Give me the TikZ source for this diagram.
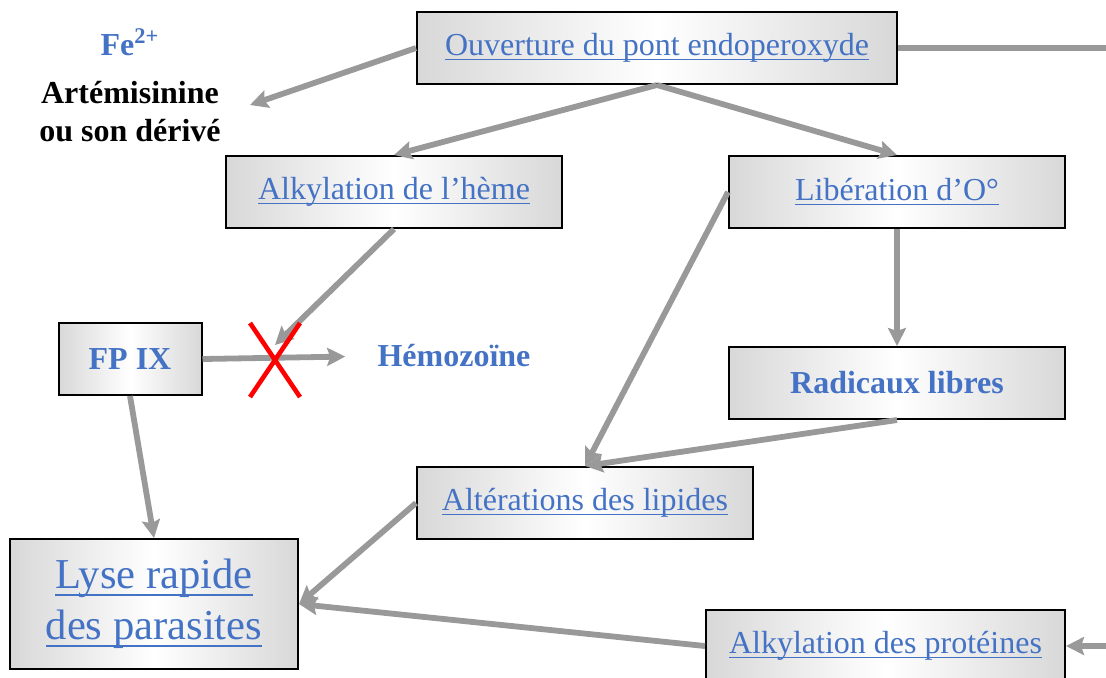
\documentclass[tikz,border=0pt]{standalone}
\usepackage{fontspec}
\setmainfont{Liberation Serif}
\usetikzlibrary{arrows.meta}
\definecolor{bleulien}{RGB}{68,114,196}
\definecolor{grisfleche}{RGB}{153,153,153}
\definecolor{grisboite}{RGB}{216,216,216}
\newcommand\lien[1]{\setbox0\hbox{#1}\rlap{\vrule height -1.6pt depth 2.3pt width \wd0}\box0}
\newcommand\liengrand[1]{\setbox0\hbox{#1}\rlap{\vrule height -2.6pt depth 3.4pt width \wd0}\box0}
\tikzset{%
  etape/.style={
    rectangle,
    draw=black,
    line width=1pt,
    left color=grisboite,
    right color=grisboite,
    middle color=white,
    text=bleulien,
    font=\fontsize{16}{19}\selectfont,
    minimum width=168pt,
    minimum height=36pt,
    inner sep=0pt
  },
  etape forte/.style={
    etape,
    font=\fontsize{16}{19}\selectfont\bfseries
  },
  label forte/.style={
    inner sep=0pt,
    font=\fontsize{16}{19}\selectfont\bfseries
  },
  fleche/.style={
    draw=grisfleche,
    line width=2.9pt
  },
  croix rouge/.style={
    draw=red,
    line width=2.3pt
  },
}
\begin{document}
\begin{tikzpicture}[x=0.5pt, y=-0.5pt, > = {Stealth[length=9pt, width=9pt, inset=1.5pt]}]
\useasboundingbox (0,0) rectangle (1106,677);

% boites
\node[etape, minimum width=240pt] (ouverture) at (657,48) {\lien{Ouverture du pont endoperoxyde}};
\node[etape] (heme) at (394,192) {\lien{Alkylation de l’hème}};
\node[etape] (liberation) at (897,192) {\lien{Libération d’O°}};
\node[etape forte, minimum width=71.5pt] (fpix) at (130,359) {FP IX};
\node[etape forte] (radicaux) at (897,383) {Radicaux libres};
\node[etape] (lipides) at (585,503) {\lien{Altérations des lipides}};
\node[etape, minimum width=144pt, minimum height=65pt, align=center,
  font=\fontsize{21.3}{25.5}\selectfont] (lyse) at (154,604) {\liengrand{Lyse rapide}\\\liengrand{des parasites}};
\node[etape, minimum width=179.5pt] (proteines) at (885.5,646) {\lien{Alkylation des protéines}};

% textes libres
\node[label forte, text=bleulien] (fer) at (130,42) {Fe\textsuperscript{2+}};
\node[label forte, align=center] (artemisinine) at (130,112) {Artémisinine\\ou son dérivé};
\node[label forte, text=bleulien] (hemozoine) at (454,356) {Hémozoïne};

\coordinate (cible) at (250,105);
\coordinate (bord haut) at (1106,48);
\coordinate (bord bas) at (1106,646);
\coordinate (blocage) at (275,345);
\coordinate (croix) at (275,360);

% fleches
\draw[fleche, ->] (ouverture.west) -- (cible);
\draw[fleche, ->] (ouverture.south) -- (heme.north);
\draw[fleche, ->] (ouverture.south) -- (liberation.north);
\draw[fleche] (ouverture.east) -- (bord haut);
\draw[fleche, ->] (heme.south) -- (blocage);
\draw[fleche, ->, shorten >=16pt] (fpix.east) -- (hemozoine.west);
\draw[fleche, ->] (fpix.south) -- (lyse.north);
\draw[fleche, ->] (liberation.west) -- (lipides.north);
\draw[fleche, ->] (liberation.south) -- (radicaux.north);
\draw[fleche, ->] (radicaux.south) -- (lipides.north);
\draw[fleche, ->] (lipides.west) -- (lyse.east);
\draw[fleche, ->] (proteines.west) -- (lyse.east);
\draw[fleche, ->] (bord bas) -- (proteines.east);

% blocage de la polymerisation
\draw[croix rouge] ([shift={(-25,-37)}]croix) -- ([shift={(25,37)}]croix);
\draw[croix rouge] ([shift={(25,-37)}]croix) -- ([shift={(-25,37)}]croix);
\end{tikzpicture}
\end{document}
